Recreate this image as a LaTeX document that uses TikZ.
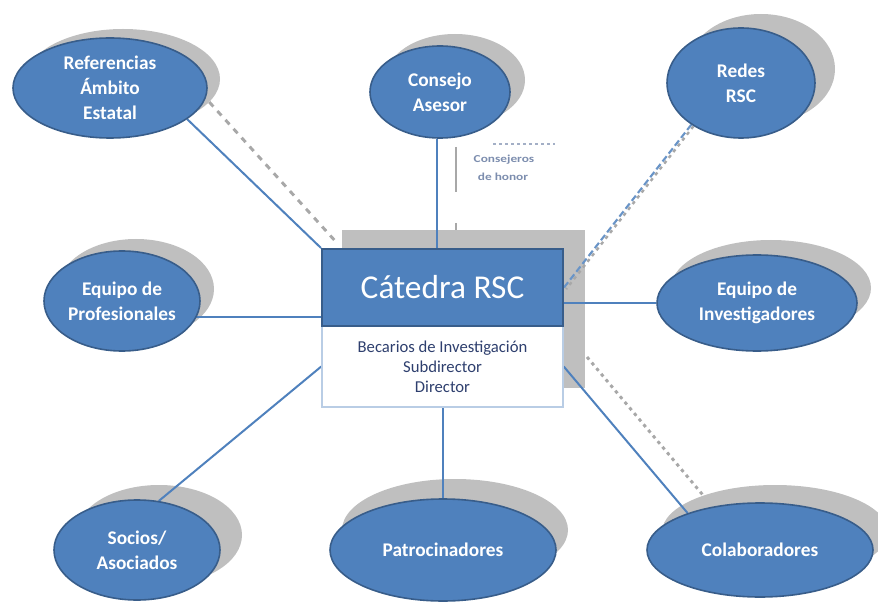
\documentclass[tikz,border=0pt]{standalone}
\usepackage{fontspec}
\setmainfont{Carlito}
\usetikzlibrary{shapes.geometric,calc}
\pgfdeclarelayer{shadowlayer}
\pgfdeclarelayer{connlayer}
\pgfsetlayers{shadowlayer,connlayer,main}
\definecolor{bfill}{HTML}{4F81BD}
\definecolor{bline}{HTML}{385D8A}
\definecolor{sgray}{HTML}{BFBFBF}
\definecolor{ggray}{HTML}{A8A8A8}
\definecolor{tblue}{HTML}{2E3F6E}
\definecolor{wline}{HTML}{B9CDE5}
\definecolor{faint}{HTML}{7C8DAE}
\tikzset{
  bubble/.style={ellipse, fill=bfill, draw=bline, line width=1.2pt, text=white,
    font=\bfseries\fontsize{14.5}{18.75}\selectfont, align=center, inner sep=0pt},
  bshadow/.style={ellipse, fill=sgray, draw=none, inner sep=0pt},
  link/.style={draw=bfill, line width=1.5pt},
  bluedash/.style={draw=bfill!85, line width=1.6pt, dash pattern=on 5pt off 2.5pt},
  graydash/.style={draw=ggray, line width=2.2pt, dash pattern=on 4.5pt off 4.5pt},
  graydot/.style={draw=ggray, line width=2.2pt, dash pattern=on 2.5pt off 3pt},
  faintline/.style={draw=faint!70, line width=1.1pt, dash pattern=on 2.5pt off 2pt},
  faintlabel/.style={text=faint, font=\bfseries\fontsize{8}{10}\selectfont, inner sep=0pt, xscale=1.25}
}
\begin{document}
\begin{tikzpicture}[x=0.75pt,y=-0.75pt]
\useasboundingbox (0,0) rectangle (878,602);

% main nodes
\node[bubble, minimum width=145.5pt, minimum height=75pt] (ref) at (110,88) {Referencias\\Ámbito\\Estatal};
\node[bubble, minimum width=105pt, minimum height=69pt] (con) at (440,92) {Consejo\\Asesor};
\node[bubble, minimum width=111pt, minimum height=82.5pt] (red) at (741,83) {Redes\\RSC};
\node[bubble, minimum width=117pt, minimum height=75pt] (prof) at (122,301) {Equipo de\\Profesionales};
\node[bubble, minimum width=150pt, minimum height=72pt] (inv) at (757,303) {Equipo de\\Investigadores};
\node[bubble, minimum width=124.5pt, minimum height=75pt] (soc) at (137,550) {Socios/\\Asociados};
\node[bubble, minimum width=169.5pt, minimum height=76.5pt] (pat) at (443,550) {Patrocinadores};
\node[bubble, minimum width=169.5pt, minimum height=70.5pt] (col) at (760,550) {Colaboradores};

\node[fill=white, draw=wline, line width=1.1pt, minimum width=180.75pt, minimum height=60.75pt,
  text=tblue, font=\fontsize{12.5}{15}\selectfont, align=center, inner sep=0pt] (staff) at (442.5,366.5)
  {Becarios de Investigación\\Subdirector\\Director};
\node[fill=bfill, draw=bline, line width=1.5pt, minimum width=180.75pt, minimum height=57.75pt,
  text=white, font=\fontsize{25}{30}\selectfont, inner sep=0pt] (cat) at (442.5,287.5) {Cátedra RSC};

\node[faintlabel] (lab1) at (504,160) {Consejeros};
\node[faintlabel] (lab2) at (503,177) {de honor};

% shadows
\begin{pgfonlayer}{shadowlayer}
\node[bshadow, minimum width=145.5pt, minimum height=75pt] (refs) at (123,79) {};
\node[bshadow, minimum width=105pt, minimum height=69pt] (cons) at (455,80) {};
\node[bshadow, minimum width=111pt, minimum height=82.5pt] (reds) at (761,69) {};
\node[bshadow, minimum width=117pt, minimum height=75pt] (profs) at (136,289) {};
\node[bshadow, minimum width=150pt, minimum height=72pt] (invs) at (771,288) {};
\node[bshadow, minimum width=124.5pt, minimum height=75pt] (socs) at (159,535) {};
\node[bshadow, minimum width=169.5pt, minimum height=76.5pt] (pats) at (455,530) {};
\node[bshadow, minimum width=169.5pt, minimum height=70.5pt] (cols) at (775,532) {};
\node[fill=sgray, draw=none, minimum width=182.25pt, minimum height=118.5pt, inner sep=0pt] (cats) at (463.5,309) {};

\coordinate (rd1) at (337,243);
\draw[graydash] (refs.-15) -- (rd1);
\coordinate (cd1) at (587,357);
\draw[graydot] (cd1) -- (cols.153);
\coordinate (g1) at (456,147);
\coordinate (g2) at (456,230);
\draw[draw=ggray, line width=2pt, dash pattern=on 33.75pt off 23.25pt] (g1) -- (g2);
\draw[graydot, line width=1.8pt] ([xshift=1.6pt,yshift=-1.2pt]red.-140) -- ([xshift=1.6pt,yshift=-1.2pt]cat.east);
\end{pgfonlayer}

% connectors
\begin{pgfonlayer}{connlayer}
\draw[link] (ref.-22) -- (cat.north west);
\draw[link] ([xshift=-2pt]con.south) -- ([xshift=-2pt]con.south |- cat.north);
\draw[bluedash] (red.-140) -- (cat.east);
\path ([yshift=-12pt]prof.center) coordinate (pp);
\draw[link] (pp) -- (pp -| cat.west);
\draw[link] (inv.west) -- (inv.west -| cat.east);
\draw[link] (soc.66) -- (staff.west);
\draw[link] (staff.south) -- (staff.south |- pat.north);
\draw[link] (staff.east) -- (col.153);
\coordinate (f1) at (493,144);
\coordinate (f2) at (555,144);
\draw[faintline] (f1) -- (f2);
\end{pgfonlayer}
\end{tikzpicture}
\end{document}
